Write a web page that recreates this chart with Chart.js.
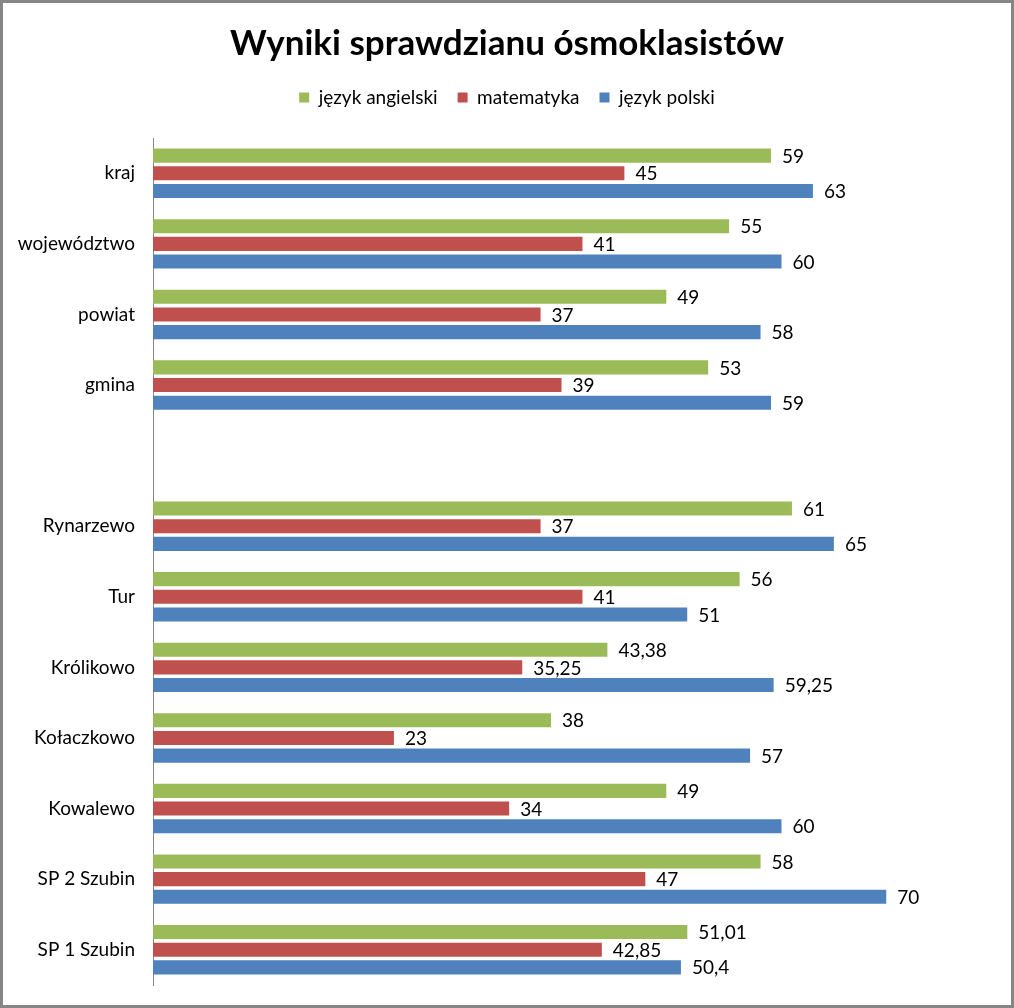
<!DOCTYPE html>
<html>
<head>
<meta charset="utf-8">
<script src="https://cdn.jsdelivr.net/npm/chart.js@4.4.1/dist/chart.umd.min.js"></script>
<style>
html,body{margin:0;padding:0;background:#fff;}
#wrap{width:1014px;height:1008px;position:relative;}
</style>
</head>
<body>
<div id="wrap"><canvas id="c" width="1014" height="1008"></canvas></div>
<script>
const categories = ['kraj','województwo','powiat','gmina','','Rynarzewo','Tur','Królikowo','Kołaczkowo','Kowalewo','SP 2 Szubin','SP 1 Szubin'];
const angielski = [59,55,49,53,null,61,56,43.38,38,49,58,51.01];
const matematyka = [45,41,37,39,null,37,41,35.25,23,34,47,42.85];
const polski = [63,60,58,59,null,65,51,59.25,57,60,70,50.4];
const seriesNames = ['język angielski','matematyka','język polski'];
const titleText = 'Wyniki sprawdzianu ósmoklasistów';

const FONT = 'Lato, "Open Sans", sans-serif';

const borderPlugin = {
  id:'frame',
  afterInit(chart){
    const lg = chart.legend;
    if (lg) {
      const orig = lg.fit.bind(lg);
      lg.fit = function(){ orig(); this.height += 21; };
    }
  },
  afterLayout(chart){
    [chart.titleBlock, chart.legend].forEach(b=>{
      if (!b) return;
      b.left = 0; b.right = chart.width; b.width = chart.width;
    });
  },
  afterDraw(chart){
    const ctx = chart.ctx;
    ctx.save();
    ctx.strokeStyle = '#868686';
    ctx.lineWidth = 3;
    ctx.strokeRect(1.5,1.5,chart.width-3,chart.height-3);
    ctx.restore();
  }
};
const labelPlugin = {
  id:'vals',
  afterDatasetsDraw(chart){
    const ctx = chart.ctx;
    ctx.save();
    ctx.font = '19px ' + FONT;
    ctx.fillStyle = '#000';
    ctx.textAlign = 'left';
    ctx.textBaseline = 'middle';
    chart.data.datasets.forEach((ds,i)=>{
      const meta = chart.getDatasetMeta(i);
      meta.data.forEach((el,j)=>{
        const v = ds.data[j];
        if (v === null || v === undefined) return;
        ctx.fillText(String(v).replace('.', ','), el.x + 11, el.y + 1);
      });
    });
    ctx.restore();
  }
};

new Chart(document.getElementById('c'), {
  type:'bar',
  data:{
    labels:categories,
    datasets:[
      {label:seriesNames[0], data:angielski, backgroundColor:'#9BBB59'},
      {label:seriesNames[1], data:matematyka, backgroundColor:'#C0504D'},
      {label:seriesNames[2], data:polski, backgroundColor:'#4F81BD'}
    ]
  },
  options:{
    indexAxis:'y',
    responsive:false,
    animation:false,
    devicePixelRatio:1,
    categoryPercentage:0.75,
    barPercentage:0.8,
    layout:{padding:{top:23,bottom:23,left:0,right:23}},
    scales:{
      x:{display:false,min:0,max:80},
      y:{
        grid:{display:false,drawTicks:false},
        border:{display:true,color:'#868686',width:1},
        ticks:{color:'#000',font:{family:FONT,size:19},padding:18},
        afterFit(s){ s.width = 153; s.paddingTop = 0; s.paddingBottom = 0; }
      }
    },
    plugins:{
      title:{display:true,text:titleText,color:'#000',font:{family:FONT,size:35,weight:'bold'},padding:{top:0,bottom:3}},
      legend:{
        position:'top',
        labels:{color:'#000',font:{family:FONT,size:19},boxWidth:10,boxHeight:10,padding:20}
      },
      tooltip:{enabled:false}
    }
  },
  plugins:[borderPlugin,labelPlugin]
});
</script>
</body>
</html>
